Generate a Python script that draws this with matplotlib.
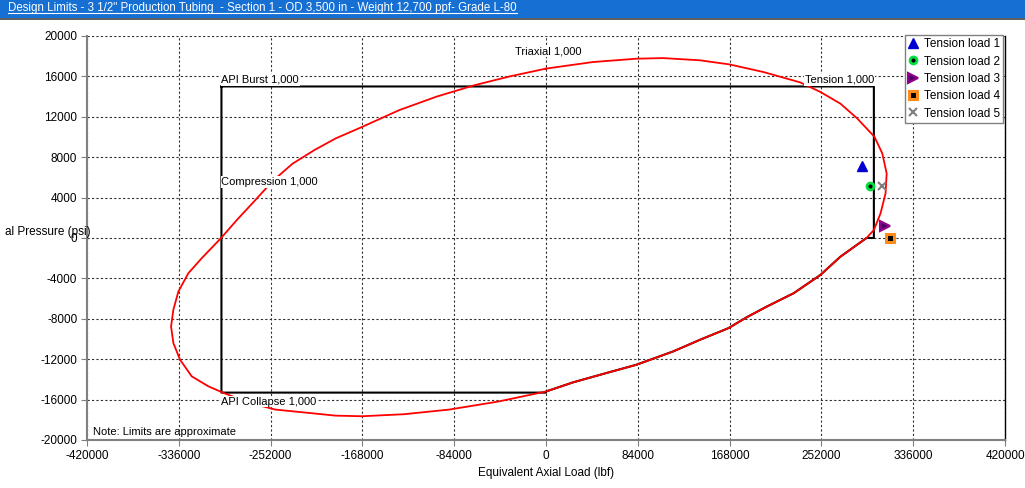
import numpy as np
import matplotlib
matplotlib.use("Agg")
import matplotlib.pyplot as plt
from matplotlib.lines import Line2D
from matplotlib.patches import Rectangle

plt.rcParams['font.family'] = ['Liberation Sans', 'DejaVu Sans']
plt.rcParams['font.size'] = 8

title = 'Design Limits - 3 1/2" Production Tubing  - Section 1 - OD 3,500 in - Weight 12,700 ppf- Grade L-80'

# triaxial (von Mises) envelope
tri_load = [0, 43000, 82800, 107200, 140900, 167500, 199000, 232700, 251000, 269400,
            284800, 300600, 307700, 311700, 310700, 306100, 300000, 293300,
            269400, 251100, 226600, 202100, 183800, 166900, 140900, 116400, 82800,
            55300, 24600, 0, -44000, -88600, -130000, -168200, -192600, -217100,
            -247700, -272000, -295100, -308900, -324200, -334900, -341000, -343100,
            -341000, -336400, -327300, -315100, -297300, -282900, -266000, -250000,
            -232000, -212000, -192600, -168200, -134500, -100000, -65600, -33000, 0]
tri_press = [16770, 17420, 17750, 17810, 17590, 17190, 16430, 15400, 14460, 13300,
             11830, 10010, 8370, 6390, 4420, 2440, 790, 0,
             -1850, -3660, -5470, -6790, -7840, -8930, -10080, -11230, -12550,
             -13370, -14300, -15200, -16200, -16990, -17450, -17650, -17590, -17320,
             -16990, -16300, -15340, -14690, -13700, -12050, -10400, -8760,
             -7110, -5300, -3490, -2010, 0, 1780, 3750, 5650,
             7350, 8700, 9850, 11000, 12650, 14000, 15120, 16000, 16770]

# API design limits
burst = 15000
collapse = -15310
tension = 300000
compression = -297000

# load cases
load_names = ['Tension load 1', 'Tension load 2', 'Tension load 3', 'Tension load 4', 'Tension load 5']
load_x = [288700, 296300, 310100, 314400, 307700]
load_y = [7140, 5170, 1220, 0, 5170]

fig = plt.figure(figsize=(10.25, 4.88), dpi=100)
ax = fig.add_axes([0.0849, 0.0984, 0.8956, 0.8279])

# black design limit outline, lower right part follows the triaxial curve
i0 = tri_load.index(293300)
i1 = i0 + tri_load[i0:].index(0)
lim_x = [compression, tension, tension] + tri_load[i0:i1 + 1] + [0, compression, compression]
lim_y = [burst, burst, 0] + tri_press[i0:i1 + 1] + [collapse, collapse, burst]
ax.plot(lim_x, lim_y, color='black', lw=1.5, zorder=3)
ax.plot(tri_load, tri_press, color='red', lw=1.3, zorder=4)

styles = [
    dict(marker='^', color='#0000d0', ms=7, mec='#0000d0'),
    dict(marker='o', color='black', ms=5, mec='#00e040', mew=2),
    dict(marker='>', color='#500060', ms=7, mec='#900090', mew=1.5),
    dict(marker='s', color='black', ms=6, mec='#ff8c1a', mew=2.2),
    dict(marker='x', color='#808080', ms=6, mew=1.5),
]
for name, x, y, st in zip(load_names, load_x, load_y, styles):
    ax.plot([x], [y], ls='none', label=name, zorder=6, **st)

box = dict(facecolor='white', edgecolor='none', pad=0.5)
ax.text(compression, burst + 150, 'API Burst 1,000', ha='left', va='bottom', bbox=box, zorder=5)
ax.text(tension, burst + 150, 'Tension 1,000', ha='right', va='bottom', bbox=box, zorder=5)
ax.text(-28000, 18480, 'Triaxial 1,000', ha='left', va='center', bbox=box, zorder=5)
ax.text(compression, 5530, 'Compression 1,000', ha='left', va='center', bbox=box, zorder=5)
ax.text(compression, -16200, 'API Collapse 1,000', ha='left', va='center', bbox=box, zorder=5)
ax.text(0.006, 0.008, 'Note: Limits are approximate', transform=ax.transAxes,
        ha='left', va='bottom', zorder=5)

ax.set_xlim(-420000, 420000)
ax.set_ylim(-20000, 20000)
ax.set_xticks(np.arange(-420000, 420001, 84000))
ax.set_yticks(np.arange(-20000, 20001, 4000))
ax.xaxis.set_major_formatter(matplotlib.ticker.FormatStrFormatter('%d'))
ax.yaxis.set_major_formatter(matplotlib.ticker.FormatStrFormatter('%d'))
ax.grid(True, color='#303030', ls=(0, (2, 2)), lw=0.8)
ax.set_axisbelow(True)
ax.tick_params(direction='out', length=4, color='#808080', labelsize=8.5, pad=3)
for s in ['left', 'bottom']:
    ax.spines[s].set_color('#808080')
    ax.spines[s].set_linewidth(1.5)
ax.spines['right'].set_color('black')
ax.spines['right'].set_linewidth(1)
ax.spines['top'].set_visible(False)

ax.set_xlabel('Equivalent Axial Load (lbf)', fontsize=8.5, labelpad=4)
fig.text(5 / 1025, 1 - 232 / 488, 'al Pressure (psi)', ha='left', va='center', fontsize=8.5)

leg = ax.legend(loc='upper right', bbox_to_anchor=(0.998, 1.003), borderaxespad=0,
                fancybox=False, framealpha=1, edgecolor='#808080', fontsize=8.5,
                handlelength=0.8, handletextpad=0.5, labelspacing=0.45, borderpad=0.3)
leg.get_frame().set_linewidth(1)

# title bar
fig.patches.append(Rectangle((0, 1 - 18 / 488), 1, 18 / 488, transform=fig.transFigure,
                             facecolor='#1670d4', edgecolor='none', zorder=0))
fig.lines.append(Line2D([0, 1], [1 - 19 / 488] * 2, transform=fig.transFigure,
                        color='#404040', lw=1.2))
t = fig.text(8 / 1025, 1 - 8 / 488, title, color='white', ha='left', va='center', fontsize=8.3)
fig.canvas.draw()
bb = t.get_window_extent().transformed(fig.transFigure.inverted())
fig.lines.append(Line2D([bb.x0, bb.x1], [bb.y0 + 0.002] * 2, transform=fig.transFigure,
                        color='white', lw=0.8))

fig.savefig('out.png', dpi=100)
